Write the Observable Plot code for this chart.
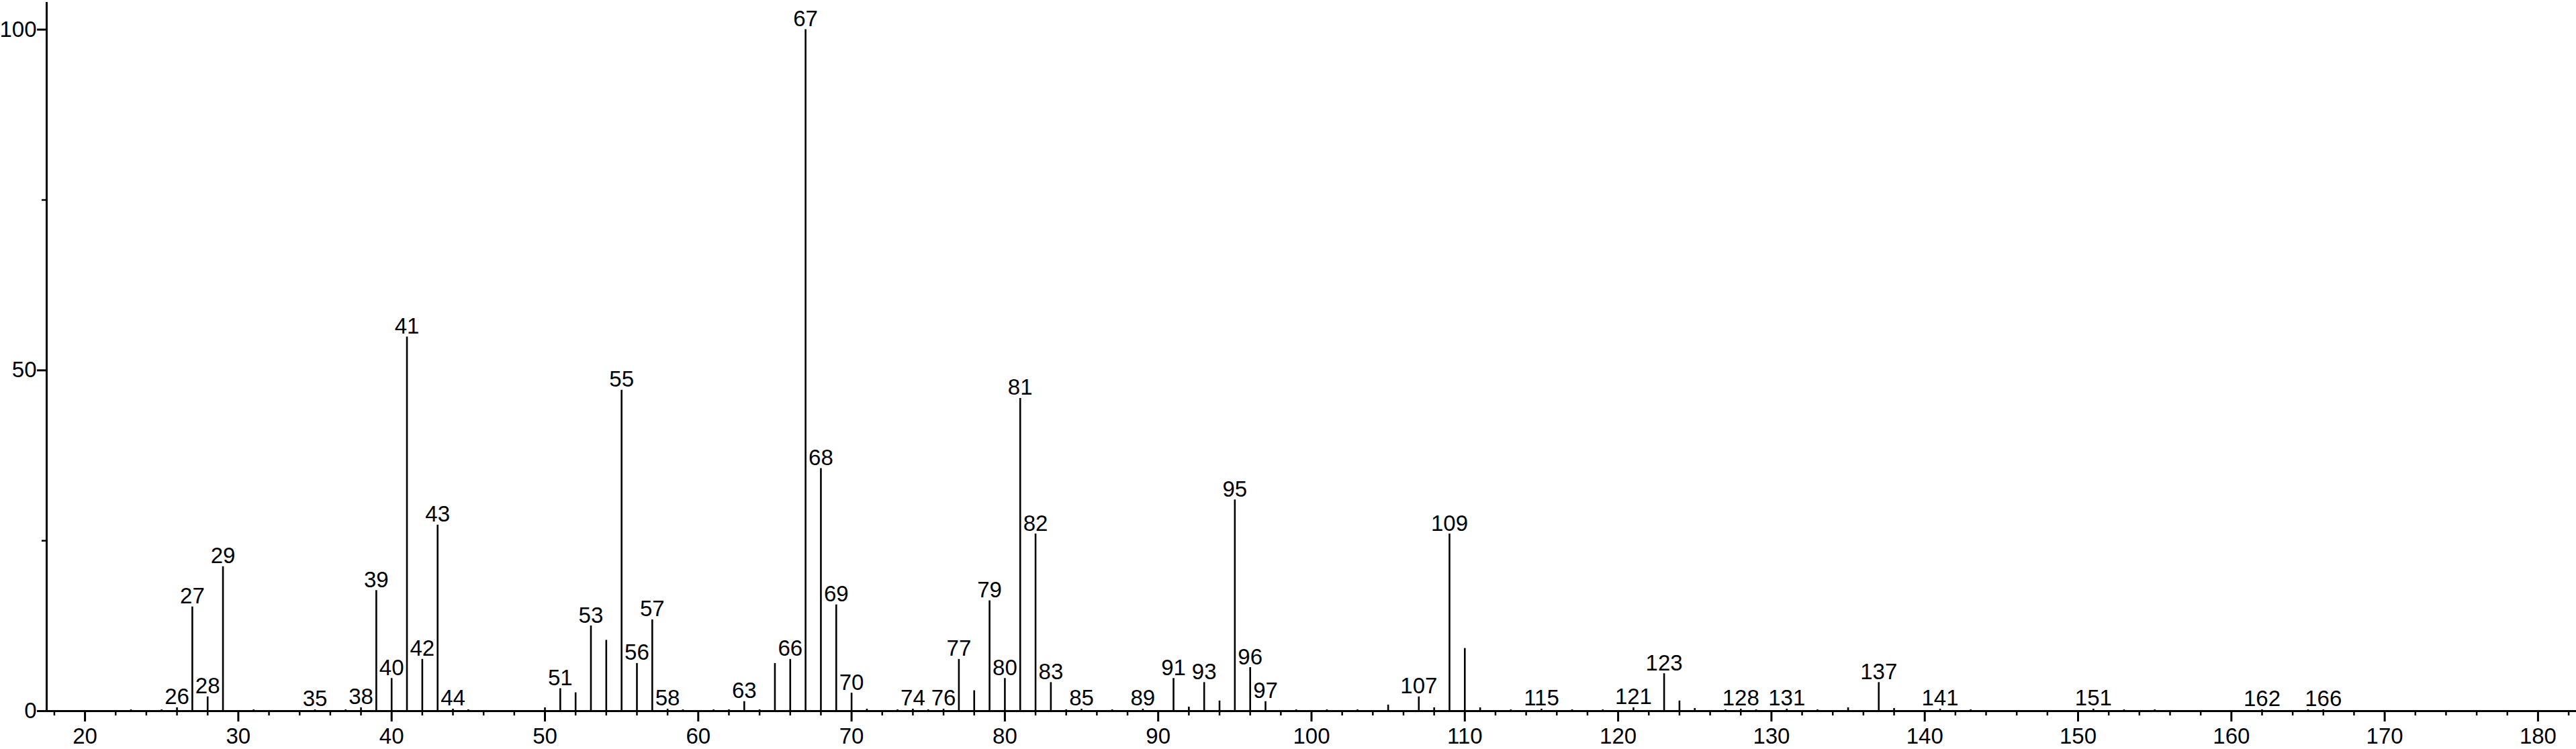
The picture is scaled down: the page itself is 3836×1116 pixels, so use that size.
<!DOCTYPE html>
<html>
<head>
<meta charset="utf-8">
<script src="https://cdn.jsdelivr.net/npm/d3@7"></script>
<script src="https://cdn.jsdelivr.net/npm/@observablehq/plot@0.6"></script>
<style>
  html, body { margin: 0; padding: 0; background: #fff; }
  #chart svg { display: block; }
</style>
</head>
<body>
<div id="chart"></div>
<script>
// m/z values and relative intensities (%)
const mz = [23, 25, 26, 27, 28, 29, 31, 35, 37, 38, 39, 40, 41, 42, 43, 44, 45, 50, 51, 52, 53, 54, 55, 56, 57, 58, 59, 61, 62, 63, 64, 65, 66, 67, 68, 69, 70, 71, 73, 74, 75, 76, 77, 78, 79, 80, 81, 82, 83, 84, 85, 87, 89, 91, 92, 93, 94, 95, 96, 97, 99, 101, 103, 105, 107, 108, 109, 110, 111, 113, 115, 117, 119, 121, 123, 124, 125, 127, 128, 129, 131, 133, 135, 137, 138, 141, 143, 151, 153, 155, 162, 165, 166];
const intensity = [0.2, 0.2, 0.5, 15.3, 2.1, 21.2, 0.2, 0.2, 0.2, 0.5, 17.7, 4.8, 54.9, 7.6, 27.3, 0.3, 0.2, 0.5, 3.3, 2.7, 12.5, 10.4, 47.1, 7.0, 13.4, 0.3, 0.2, 0.2, 0.2, 1.4, 0.2, 7.0, 7.6, 100, 35.6, 15.6, 2.65, 0.3, 0.2, 0.3, 0.2, 0.3, 7.6, 3.0, 16.2, 4.8, 45.9, 26.0, 4.2, 0.2, 0.3, 0.2, 0.3, 4.8, 0.6, 4.2, 1.5, 31.0, 6.4, 1.4, 0.2, 0.2, 0.2, 0.9, 2.1, 0.5, 26.0, 9.2, 0.5, 0.2, 0.3, 0.2, 0.2, 0.5, 5.5, 1.5, 0.4, 0.2, 0.3, 0.2, 0.3, 0.2, 0.5, 4.2, 0.4, 0.3, 0.2, 0.3, 0.2, 0.2, 0.2, 0.2, 0.2];
// peaks that carry an m/z label
const labeledMz = [26, 27, 28, 29, 35, 38, 39, 40, 41, 42, 43, 44, 51, 53, 55, 56, 57, 58, 63, 66, 67, 68, 69, 70, 74, 76, 77, 79, 80, 81, 82, 83, 85, 89, 91, 93, 95, 96, 97, 107, 109, 115, 121, 123, 128, 131, 137, 141, 151, 162, 166];
// axis ticks
const xMajorTicks = [20, 30, 40, 50, 60, 70, 80, 90, 100, 110, 120, 130, 140, 150, 160, 170, 180];
const xMinorTicks = [18, 22, 24, 26, 28, 32, 34, 36, 38, 42, 44, 46, 48, 52, 54, 56, 58, 62, 64, 66, 68, 72, 74, 76, 78, 82, 84, 86, 88, 92, 94, 96, 98, 102, 104, 106, 108, 112, 114, 116, 118, 122, 124, 126, 128, 132, 134, 136, 138, 142, 144, 146, 148, 152, 154, 156, 158, 162, 164, 166, 168, 172, 174, 176, 178, 182];
const yMajorTicks = [0, 50, 100];
const yMinorTicks = [25, 75];

const peaks = mz.map((m, i) => ({mz: m, intensity: intensity[i]}));
const labels = peaks.filter(d => labeledMz.includes(d.mz));

const xMin = 17.5, xMax = 182.5, yMax = 104;
const font = "Liberation Sans, Arial, sans-serif";
const fs = 33;

const chart = Plot.plot({
  width: 3836,
  height: 1116,
  marginLeft: 69,
  marginRight: 0,
  marginTop: 3,
  marginBottom: 57,
  style: {fontFamily: font, background: "#fff", color: "#000"},
  x: {domain: [xMin, xMax]},
  y: {domain: [0, yMax]},
  marks: [
    Plot.ruleX(peaks, {x: "mz", y1: 0, y2: "intensity", stroke: "#000", strokeWidth: 2.6}),
    Plot.text(labels, {x: "mz", y: "intensity", text: d => String(d.mz), lineAnchor: "bottom", dy: -5, fontSize: fs, fill: "#000"}),
    Plot.axisX({ticks: xMajorTicks, tickSize: 16, tickPadding: 9, tickFormat: d => String(d), fontSize: fs, strokeWidth: 3, label: null}),
    Plot.axisX({ticks: xMinorTicks, tickSize: 7, text: null, strokeWidth: 2.5, label: null}),
    Plot.axisY({ticks: yMajorTicks, tickSize: 14, tickPadding: 1, tickFormat: d => String(d), fontSize: fs, strokeWidth: 3, label: null}),
    Plot.axisY({ticks: yMinorTicks, tickSize: 7, text: null, strokeWidth: 2.5, label: null}),
    Plot.ruleY([0], {stroke: "#000", strokeWidth: 3}),
    Plot.ruleX([xMin], {y1: 0, y2: yMax, stroke: "#000", strokeWidth: 3})
  ]
});
document.getElementById("chart").append(chart);
</script>
</body>
</html>
